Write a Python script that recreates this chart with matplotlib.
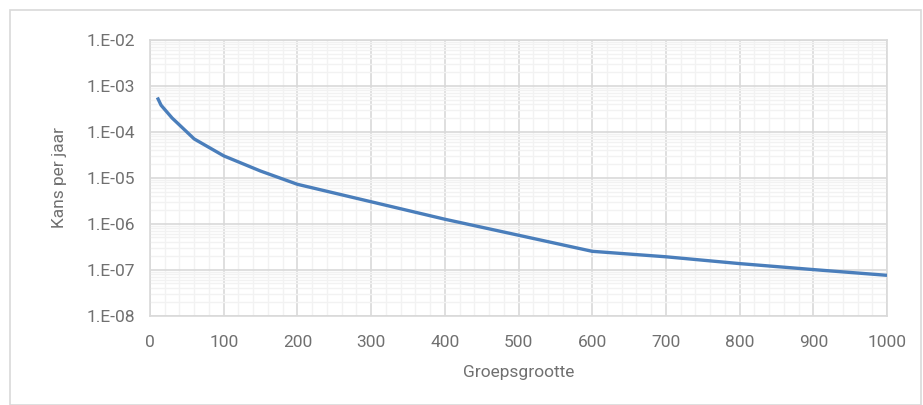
import math
import matplotlib
matplotlib.use("Agg")
import matplotlib.pyplot as plt
from matplotlib.ticker import FuncFormatter, MultipleLocator, LogLocator, NullFormatter
from matplotlib.patches import Rectangle

groepsgrootte = [10, 15, 30, 60, 100, 150, 200, 300, 400, 500, 600, 700, 800, 900, 1000]
kans = [5.6e-4, 3.8e-4, 2.0e-4, 7.0e-5, 3.0e-5, 1.4e-5, 7.2e-6, 3.0e-6, 1.25e-6,
        5.6e-7, 2.5e-7, 1.9e-7, 1.35e-7, 1.0e-7, 7.5e-8]

plt.rcParams['font.family'] = ['Roboto', 'DejaVu Sans']
txt = '#707070'

fig = plt.figure(figsize=(9.23, 4.05), dpi=100)
fig.patches.append(Rectangle((10/923, 0), 911/923, 395/405, transform=fig.transFigure,
                             fill=False, edgecolor='#d9d9d9', linewidth=1.2))
ax = fig.add_axes([150/923, 1-315.5/405, 737/923, 275.5/405])
ax.plot(groepsgrootte, kans, color='#4a7ebb', linewidth=2.4, solid_capstyle='butt', zorder=3)
ax.set_yscale('log')
ax.set_xlim(0, 1000)
ax.set_ylim(1e-8, 1e-2)
ax.xaxis.set_major_locator(MultipleLocator(100))
ax.xaxis.set_minor_locator(MultipleLocator(20))
ax.yaxis.set_major_locator(LogLocator(base=10, numticks=10))
ax.yaxis.set_minor_locator(LogLocator(base=10, subs=range(2, 10), numticks=20))
ax.yaxis.set_minor_formatter(NullFormatter())
ax.yaxis.set_major_formatter(FuncFormatter(lambda v, p: '1.E-%02d' % round(-math.log10(v))))
ax.grid(True, which='major', color='#d9d9d9', linewidth=1.2)
ax.grid(True, which='minor', color='#f2f2f2', linewidth=1.0)
ax.set_axisbelow(True)
for s in ax.spines.values():
    s.set_color('#d9d9d9')
    s.set_linewidth(1.2)
ax.tick_params(which='both', length=0, colors=txt, labelsize=12.5)
ax.tick_params(axis='x', pad=14)
ax.tick_params(axis='y', pad=11)
ax.set_xlabel('Groepsgrootte', color=txt, fontsize=12.5, labelpad=11)
ax.set_ylabel('Kans per jaar', color=txt, fontsize=12.5, labelpad=14)
fig.savefig('out.png', dpi=100)
